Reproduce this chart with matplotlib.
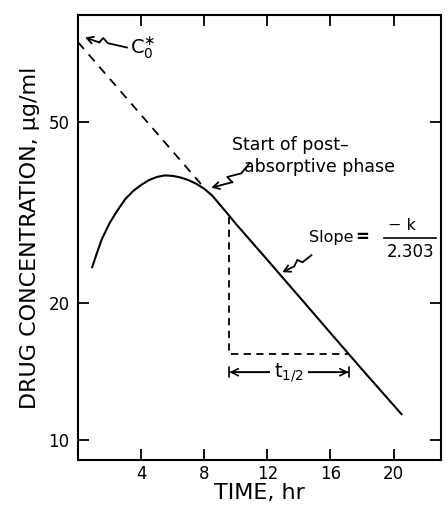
import numpy as np
import matplotlib.pyplot as plt
from matplotlib.ticker import FixedLocator, NullLocator, FixedFormatter

# data (semi-log plot, oral dose, one-compartment)
time_hr = [0.9, 1.2, 1.5, 2.0, 2.5, 3.0, 3.5, 4.0, 4.5, 5.0, 5.5, 6.0, 6.5,
           7.0, 7.5, 8.0, 8.5, 9.0, 9.5, 10.0, 12.0, 14.0, 16.0, 18.0, 20.5]
conc = [24.0, 25.8, 27.6, 30.0, 32.0, 33.9, 35.3, 36.4, 37.3, 37.9, 38.2, 38.1, 37.8,
        37.3, 36.6, 35.7, 34.5, 32.9, 31.4, 29.9, 24.9, 20.7, 17.2, 14.3, 11.4]

# back-extrapolated terminal line to C0
extrap_t = [0.0, 7.9]
extrap_c = [75.0, 36.2]

# half-life construction
half_t = [9.6, 9.6, 17.15]
half_c = [31.0, 15.5, 15.5]
half_span = (9.6, 17.15)
half_arrow_c = 14.1

x_ticks = [4, 8, 12, 16, 20]
y_ticks = [10, 20, 50]
y_labels = ['10', '20', '50']

plt.rcParams['font.family'] = ['DejaVu Sans']

fig = plt.figure(figsize=(4.47, 5.07), dpi=100)
ax = fig.add_axes([0.1745, 0.0927, 0.812, 0.877])

ax.set_yscale('log')
ax.set_xlim(0, 23)
ax.set_ylim(9.04, 85.9)

ax.plot(time_hr, conc, color='black', lw=1.5)
ax.plot(extrap_t, extrap_c, color='black', lw=1.3, ls=(0, (5, 4)))
ax.plot(half_t, half_c, color='black', lw=1.3, ls=(0, (4, 3)))

# t1/2 span arrow
ax.annotate('', xy=(half_span[0], half_arrow_c), xytext=(half_span[1], half_arrow_c),
            arrowprops=dict(arrowstyle='<->,head_length=0.5,head_width=0.25', lw=1.2, shrinkA=0, shrinkB=0))
ax.annotate('', xy=(half_span[0], half_arrow_c), xytext=(half_span[1], half_arrow_c),
            arrowprops=dict(arrowstyle='|-|,widthA=0.35,widthB=0.35', lw=1.2, shrinkA=0, shrinkB=0))
ax.text(sum(half_span) / 2, half_arrow_c, r'$\mathregular{t_{1/2}}$', fontsize=14,
        ha='center', va='center', bbox=dict(fc='white', ec='none', pad=3))


def zigzag(pts):
    xs = [p[0] for p in pts[:-1]]
    ys = [p[1] for p in pts[:-1]]
    ax.plot(xs, ys, color='black', lw=1.3)
    ax.annotate('', xy=pts[-1], xytext=pts[-2],
                arrowprops=dict(arrowstyle='->,head_length=0.45,head_width=0.25',
                                lw=1.3, shrinkA=0, shrinkB=0))


# C0 label
zigzag([(3.1, 73.0), (1.9, 74.6), (1.6, 76.6), (1.35, 74.9), (0.45, 76.8)])
ax.text(3.3, 72.5, r'$\mathregular{C_0^{\ast}}$', fontsize=14, ha='left', va='center')

# start of post-absorptive phase
zigzag([(10.86, 40.6), (10.35, 38.6), (9.46, 37.9), (9.78, 36.9), (8.45, 35.9)])
ax.text(9.75, 44.5, 'Start of post\u2013', fontsize=12.5, ha='left', va='center')
ax.text(10.55, 39.8, 'absorptive phase', fontsize=12.5, ha='left', va='center')

# slope label
zigzag([(14.79, 25.5), (14.22, 24.6), (13.9, 24.9), (13.7, 24.1), (12.95, 23.4)])
ax.text(14.65, 27.9, 'Slope', fontsize=11.5, ha='left', va='center')
ax.text(17.6, 27.9, '=', fontsize=12, fontweight='bold', ha='left', va='center')
ax.text(20.5, 29.6, '\u2212 k', fontsize=11.5, ha='center', va='center')
ax.text(21.1, 25.9, '2.303', fontsize=12, ha='center', va='center')
ax.plot([19.4, 22.7], [27.8, 27.8], color='black', lw=1.2)

# axes styling
for s in ax.spines.values():
    s.set_linewidth(1.5)
ax.xaxis.set_major_locator(FixedLocator(x_ticks))
ax.yaxis.set_major_locator(FixedLocator(y_ticks))
ax.yaxis.set_major_formatter(FixedFormatter(y_labels))
ax.yaxis.set_minor_locator(NullLocator())
ax.tick_params(which='both', direction='in', length=8, width=1.3,
               top=True, right=True, labelsize=12)
ax.tick_params(axis='y', pad=6)

ax.set_xlabel('TIME, hr', fontsize=16, labelpad=0)
ax.set_ylabel('DRUG CONCENTRATION, \u03bcg/ml', fontsize=16, labelpad=6)

fig.savefig('out.png', dpi=100)
